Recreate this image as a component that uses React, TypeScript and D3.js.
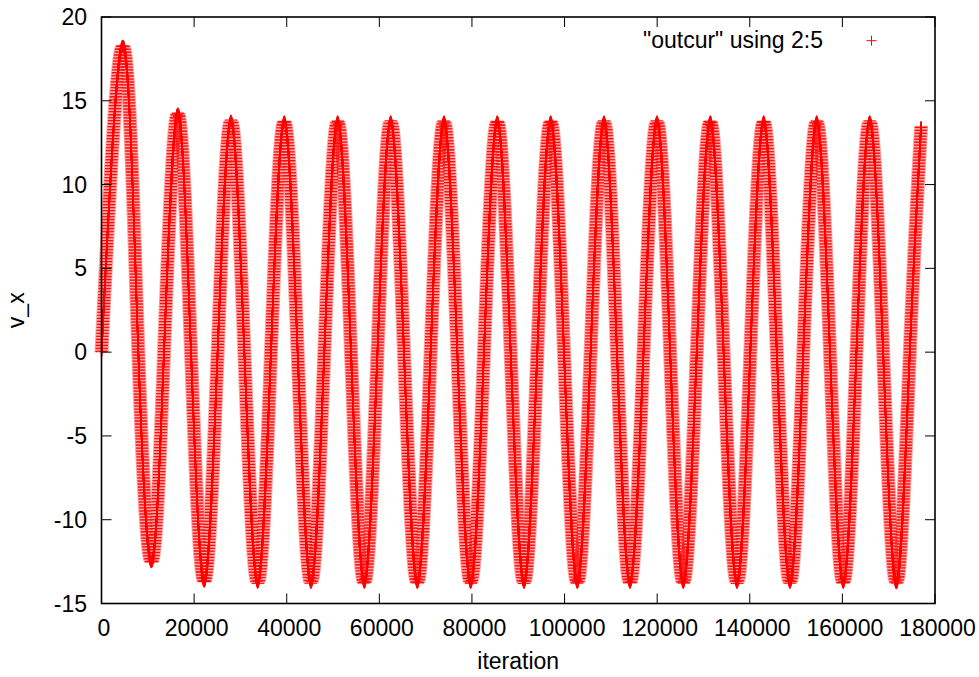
import React from "react";
import * as d3 from "d3";

// iteration (column 2) and v_x (column 5): extrema and zero crossings
const ITER = [
  0, 4700, 7950, 10850, 13500, 16450, 19330, 22200, 25080, 27960, 30850, 33730,
  36600, 39470, 42360, 45240, 48120, 51000, 53880, 56750, 59600, 62450, 65320,
  68200, 71080, 73960, 76840, 79730, 82600, 85470, 88360, 91240, 94120, 97000,
  99880, 102750, 105630, 108510, 111320, 114130, 117050, 119960, 122800, 125640,
  128550, 131470, 134350, 137240, 140120, 143000, 145840, 148680, 151560, 154450,
  157320, 160190, 163040, 165890, 168800, 171720, 174560, 177000,
];
const VX = [
  0, 18.3, 0, -12.55, 0, 14.27, 0, -13.72, 0, 13.85, 0, -13.8,
  0, 13.8, 0, -13.8, 0, 13.8, 0, -13.8, 0, 13.8, 0,
  -13.8, 0, 13.8, 0, -13.8, 0, 13.8, 0, -13.8, 0, 13.8,
  0, -13.8, 0, 13.8, 0, -13.8, 0, 13.8, 0, -13.8,
  0, 13.8, 0, -13.8, 0, 13.8, 0, -13.8, 0, 13.8,
  0, -13.8, 0, 13.8, 0, -13.8, 0, 13.5,
];
const X_TICKS = [0, 20000, 40000, 60000, 80000, 100000, 120000, 140000, 160000, 180000];
const Y_TICKS = [-15, -10, -5, 0, 5, 10, 15, 20];
const LEGEND = '"outcur" using 2:5';
const X_LABEL = "iteration";
const Y_LABEL = "v_x";

const FONT = "'Liberation Sans', Arial, Helvetica, sans-serif";

export default function App() {
  const W = 979, H = 677;
  const L = 101.5, R = 935, T = 17, B = 603.5;
  const x = d3.scaleLinear().domain([0, 180000]).range([L, R]);
  const y = d3.scaleLinear().domain([-15, 20]).range([B, T]);
  const line = d3
    .line<number>()
    .x((_, i) => x(ITER[i]))
    .y((d) => y(d))
    .curve(d3.curveNatural);
  const d = line(VX) || "";

  const hBase = d3.range(-6.5, 6.51, 0.5);
  const hBars = d3.range(-5.5, 5.51, 1);
  const vStem = d3.range(-5, 5.01, 0.5);
  const tick = 10;
  const fs = 23;

  return (
    <svg width={W} height={H} style={{ position: "absolute", left: 0, top: 0, background: "#fff" }}>
      <rect x={0} y={0} width={W} height={H} fill="#fff" />
      {/* series band: plus markers swept along the data curve */}
      <g opacity={0.35}>
        {hBase.map((dx) => (
          <path key={"b" + dx} d={d} transform={`translate(${dx},0)`} fill="none" stroke="#ff0000" strokeWidth={1} />
        ))}
      </g>
      <g opacity={0.95}>
        {hBars.map((dx) => (
          <path
            key={"h" + dx}
            d={d}
            transform={`translate(${dx},0)`}
            fill="none"
            stroke="#ff0000"
            strokeWidth={1.3}
            strokeDasharray="1.3 1.7"
          />
        ))}
      </g>
      <g>
        {vStem.map((dy) => (
          <path key={"v" + dy} d={d} transform={`translate(0,${dy})`} fill="none" stroke="#ff0000" strokeWidth={1.2} />
        ))}
      </g>

      {/* ticks */}
      {X_TICKS.map((v) => (
        <g key={"xt" + v} stroke="#000" strokeWidth={1}>
          <line x1={x(v)} x2={x(v)} y1={B} y2={B - tick} />
          <line x1={x(v)} x2={x(v)} y1={T} y2={T + tick} />
        </g>
      ))}
      {Y_TICKS.map((v) => (
        <g key={"yt" + v} stroke="#000" strokeWidth={1}>
          <line x1={L} x2={L + tick} y1={y(v)} y2={y(v)} />
          <line x1={R} x2={R - tick} y1={y(v)} y2={y(v)} />
        </g>
      ))}
      {/* border */}
      <rect x={L} y={T} width={R - L} height={B - T} fill="none" stroke="#000" strokeWidth={1.6} />

      {/* tick labels */}
      {X_TICKS.map((v) => (
        <text key={"xl" + v} x={x(v) + 2.5} y={636} fontFamily={FONT} fontSize={fs} textAnchor="middle" fill="#000">
          {String(v)}
        </text>
      ))}
      {Y_TICKS.map((v) => (
        <text key={"yl" + v} x={87} y={y(v) + 8} fontFamily={FONT} fontSize={fs} textAnchor="end" fill="#000">
          {String(v)}
        </text>
      ))}

      {/* axis labels */}
      <text x={(L + R) / 2} y={669} fontFamily={FONT} fontSize={fs} textAnchor="middle" fill="#000">
        {X_LABEL}
      </text>
      <text
        transform={`translate(24,${(T + B) / 2}) rotate(-90)`}
        fontFamily={FONT}
        fontSize={fs}
        textAnchor="middle"
        fill="#000"
      >
        {Y_LABEL}
      </text>

      {/* legend */}
      <text x={823} y={48} fontFamily={FONT} fontSize={fs} textAnchor="end" fill="#000">
        {LEGEND}
      </text>
      <g stroke="#ff0000" strokeWidth={1}>
        <line x1={866.5} x2={876.5} y1={40.7} y2={40.7} />
        <line x1={871.5} x2={871.5} y1={35.7} y2={45.7} />
      </g>
    </svg>
  );
}
